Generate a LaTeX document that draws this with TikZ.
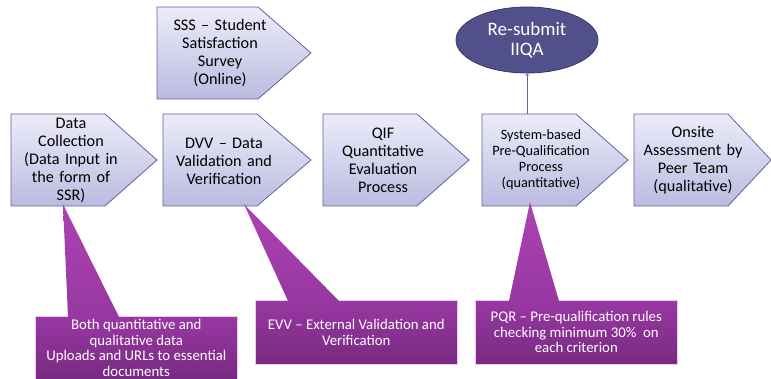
\documentclass[tikz,border=0pt]{standalone}
\usepackage{fontspec}
\setmainfont{Carlito}
\usetikzlibrary{shapes.geometric,calc}

\definecolor{stageTop}{RGB}{236,236,249}
\definecolor{stageBot}{RGB}{186,187,224}
\definecolor{stageLine}{RGB}{98,98,158}
\definecolor{ovalFill}{RGB}{82,80,138}
\definecolor{ovalLine}{RGB}{56,54,102}
\definecolor{noteTop}{RGB}{152,56,162}
\definecolor{noteBot}{RGB}{120,42,130}
\definecolor{noteLine}{RGB}{236,200,238}
\definecolor{tipTop}{RGB}{172,66,178}

\tikzset{
  stage/.style={top color=stageTop, bottom color=stageBot, draw=stageLine, line width=0.8pt},
  stagetext/.style={text width=130pt, align=center, inner sep=0pt, minimum height=92pt,
    font=\fontsize{16.2}{18}\selectfont},
  oval/.style={ellipse, fill=ovalFill, draw=ovalLine, line width=0.8pt, minimum width=142pt,
    minimum height=66pt, inner sep=0pt, align=center, text=white, font=\fontsize{19}{20}\selectfont},
  note/.style={top color=noteTop, bottom color=noteBot, draw=noteLine, line width=0.6pt,
    minimum width=202pt, minimum height=64pt, inner sep=0pt, align=center, text=white,
    anchor=north west, font=\fontsize{14.8}{15.6}\selectfont},
  pointer/.style={top color=tipTop, bottom color=noteTop},
  arrowline/.style={->, draw=stageLine, line width=0.7pt}
}

\begin{document}
\begin{tikzpicture}[x=1pt, y=-1pt]
  \useasboundingbox (0,0) rectangle (771,379);

  % stages
  \path[stage] (157,7) -- (258,7) -- (311,53) -- (258,99) -- (157,99) -- cycle;
  \path[stage] (11,114) -- (105,114) -- (157,160) -- (105,206) -- (11,206) -- cycle;
  \path[stage] (163,114) -- (257,114) -- (311,160) -- (257,206) -- (163,206) -- cycle;
  \path[stage] (323,114) -- (417,114) -- (469,160) -- (417,206) -- (323,206) -- cycle;
  \path[stage] (482,114) -- (576,114) -- (628,160) -- (576,206) -- (482,206) -- cycle;
  \path[stage] (634,114) -- (728,114) -- (771,160) -- (728,206) -- (634,206) -- cycle;

  \node[stagetext] (sss) at (220,53) {SSS -- Student\\Satisfaction\\Survey\\(Online)};
  \node[stagetext] (dc) at (71,160) {Data\\Collection\\(Data Input in\\the form of\\SSR)};
  \node[stagetext] (dvv) at (224,161) {DVV -- Data\\Validation and\\Verification};
  \node[stagetext] (qif) at (383,160) {QIF\\Quantitative\\Evaluation\\Process};
  \node[stagetext, font=\fontsize{14.3}{16}\selectfont] (pq) at (541,160)
    {System-based\\Pre-Qualification\\Process\\(quantitative)};
  \node[stagetext] (ons) at (693,160) {Onsite\\Assessment by\\Peer Team\\(qualitative)};

  % resubmission
  \node[oval] (iiqa) at (527,40) {Re-submit\\IIQA};
  \draw[arrowline] (pq.north -| iiqa.south) -- (iiqa.south);

  % notes
  \node[note, minimum height=63pt] (both) at (35,316)
    {Both quantitative and\\qualitative data\\Uploads and URLs to essential\\documents};
  \node[note] (evv) at (255,300) {EVV -- External Validation and\\Verification};
  \node[note] (pqr) at (475,300)
    {PQR -- Pre-qualification rules\\checking minimum 30\%\ \ on\\each criterion};

  \path[pointer] ([xshift=-8pt,yshift=2pt]dc.south) -- ($(both.north west)+(84,1)$)
    -- ($(both.north west)+(33,1)$) -- cycle;
  \path[pointer] ([xshift=20pt,yshift=3pt]dvv.south) -- ($(evv.north west)+(84,1)$)
    -- ($(evv.north west)+(33,1)$) -- cycle;
  \path[pointer] ([xshift=-11pt,yshift=4pt]pq.south) -- ($(pqr.north west)+(84,1)$)
    -- ($(pqr.north west)+(34,1)$) -- cycle;
\end{tikzpicture}
\end{document}
